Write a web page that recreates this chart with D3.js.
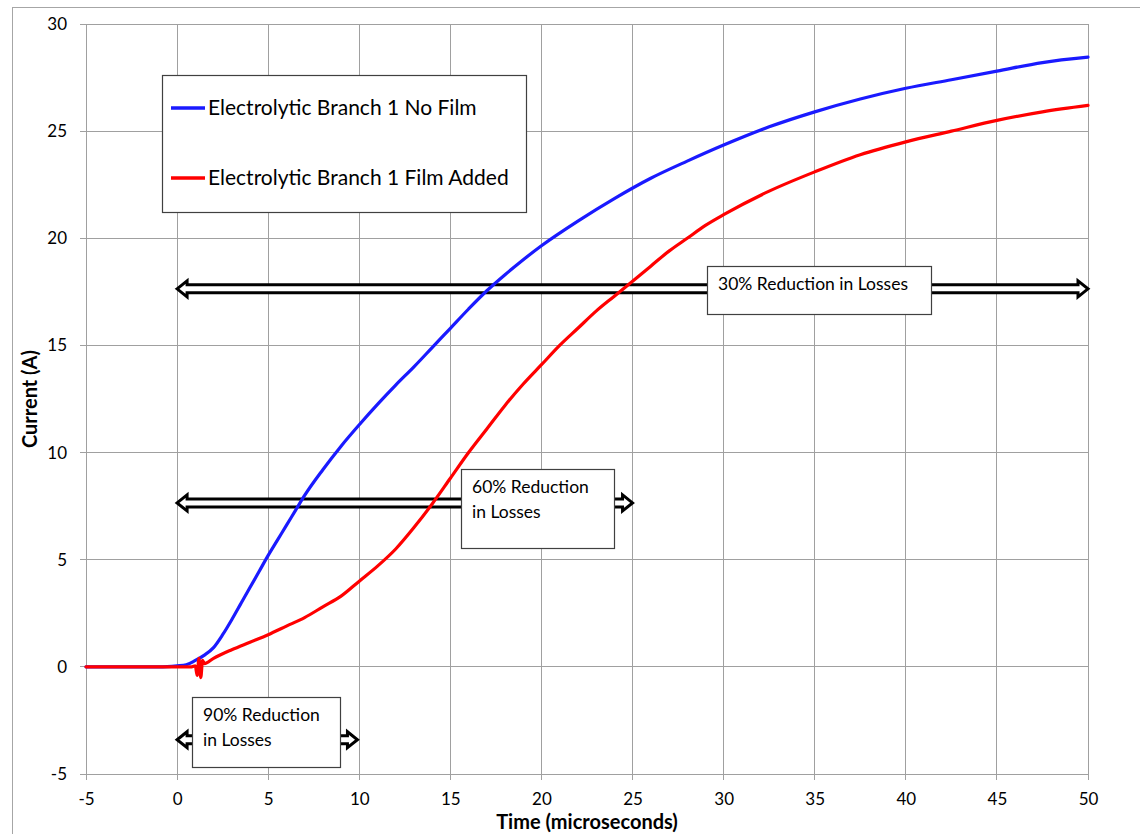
<!DOCTYPE html>
<html>
<head>
<meta charset="utf-8">
<script src="https://cdn.jsdelivr.net/npm/d3@7"></script>
<style>
  html, body { margin: 0; padding: 0; background: #fff; }
  svg { display: block; }
  text { font-family: Lato, "Open Sans", sans-serif; fill: #000; }
</style>
</head>
<body>
<script>
// Current step response of the electrolytic branch, with and without film capacitor
const timeNoFilm    = [-5, -4, -3, -2, -1, 0, 0.5, 1, 1.5, 2, 2.5, 3, 3.5, 4, 4.5, 5, 5.5, 6, 6.5, 7, 8, 9, 10, 11, 12, 13, 14, 15, 16, 17, 18, 19, 20, 22, 24, 26, 28, 30, 32.5, 35, 37.5, 40, 42.5, 45, 47.5, 50];
const currentNoFilm = [0, 0, 0, 0, 0, 0.05, 0.1, 0.3, 0.55, 0.9, 1.5, 2.2, 2.95, 3.7, 4.45, 5.2, 5.9, 6.6, 7.3, 8.0, 9.2, 10.3, 11.3, 12.25, 13.15, 14.0, 14.9, 15.8, 16.7, 17.55, 18.3, 19.0, 19.65, 20.8, 21.85, 22.8, 23.6, 24.35, 25.2, 25.9, 26.5, 27.0, 27.4, 27.8, 28.2, 28.45];

const timeFilm    = [-5, -4, -3, -2, -1, 0, 0.8, 1.0, 1.1, 1.2, 1.3, 1.4, 1.5, 2, 3, 4, 5, 6, 7, 8, 9, 10, 11, 12, 13, 14, 15, 16, 17, 18, 19, 20, 21, 22, 23, 24, 25, 26, 27, 28, 29, 30, 32.5, 35, 37.5, 40, 42.5, 45, 47.5, 50];
const currentFilm = [0, 0, 0, 0, 0, 0, 0, 0.05, -0.4, 0.4, -0.5, 0.3, 0.15, 0.4, 0.8, 1.15, 1.5, 1.9, 2.3, 2.8, 3.3, 4.0, 4.7, 5.5, 6.5, 7.6, 8.8, 10.0, 11.1, 12.2, 13.2, 14.1, 15.0, 15.8, 16.6, 17.3, 18.0, 18.7, 19.4, 20.0, 20.6, 21.1, 22.2, 23.1, 23.9, 24.5, 25.0, 25.5, 25.9, 26.2];

const seriesNames  = ["Electrolytic Branch 1 No Film", "Electrolytic Branch 1 Film Added"];
const seriesColors = ["#1a1aff", "#ff0000"];

const xTicks = [-5, 0, 5, 10, 15, 20, 25, 30, 35, 40, 45, 50];
const yTicks = [-5, 0, 5, 10, 15, 20, 25, 30];

// Loss-reduction spans: start time, end time, current level, label lines
const spanStart = [0, 0, 0];
const spanEnd   = [50, 25, 9.9];
const spanLevel = [17.64, 7.65, -3.4];
const spanLabel = [["30% Reduction in Losses"], ["60% Reduction", "in Losses"], ["90% Reduction", "in Losses"]];

const W = 1140, H = 834;
const plot = { left: 86, right: 1088, top: 24, bottom: 774 };

const svg = d3.select("body").append("svg").attr("width", W).attr("height", H);

// chart area frame
svg.append("rect").attr("x", 12.5).attr("y", 7.5).attr("width", 1200).attr("height", 1000)
  .attr("fill", "#fff").attr("stroke", "#a6a6a6").attr("stroke-width", 1);

const x = d3.scaleLinear().domain([-5, 50]).range([plot.left, plot.right]);
const y = d3.scaleLinear().domain([-5, 30]).range([plot.bottom, plot.top]);

// gridlines
const grid = svg.append("g").attr("stroke", "#a0a0a0").attr("stroke-width", 1).attr("shape-rendering", "crispEdges");
grid.selectAll(".gx").data(xTicks).join("line")
  .attr("x1", d => x(d)).attr("x2", d => x(d))
  .attr("y1", plot.top).attr("y2", plot.bottom + 6);
grid.selectAll(".gy").data(yTicks).join("line")
  .attr("x1", plot.left - 6).attr("x2", plot.right)
  .attr("y1", d => y(d)).attr("y2", d => y(d));

// axes (labels only; the grid supplies the lines)
const xAxis = svg.append("g").attr("transform", `translate(0,${plot.bottom})`)
  .call(d3.axisBottom(x).tickValues(xTicks).tickSize(0).tickPadding(19).tickFormat(d => String(d)));
const yAxis = svg.append("g").attr("transform", `translate(${plot.left},0)`)
  .call(d3.axisLeft(y).tickValues(yTicks).tickSize(0).tickPadding(19).tickFormat(d => String(d)));
[xAxis, yAxis].forEach(a => {
  a.select(".domain").remove();
  a.selectAll("text").style("font-size", "17px").style("font-family", "Lato, 'Open Sans', sans-serif").attr("fill", "#000");
});

// axis titles
svg.append("text").attr("x", (plot.left + plot.right) / 2).attr("y", 829)
  .attr("text-anchor", "middle").style("font-size", "20px").style("font-weight", "bold")
  .text("Time (microseconds)");
svg.append("text").attr("transform", `translate(37,${(plot.top + plot.bottom) / 2}) rotate(-90)`)
  .attr("text-anchor", "middle").style("font-size", "20px").style("font-weight", "bold")
  .text("Current (A)");

// double-headed block arrows
function arrowPath(x0, x1, yc) {
  const sh = 4, hh = 8, hl = 10;
  return `M${x0},${yc} L${x0 + hl},${yc - hh} L${x0 + hl},${yc - sh} L${x1 - hl},${yc - sh} L${x1 - hl},${yc - hh} ` +
         `L${x1},${yc} L${x1 - hl},${yc + hh} L${x1 - hl},${yc + sh} L${x0 + hl},${yc + sh} L${x0 + hl},${yc + hh} Z`;
}
svg.append("g").selectAll("path").data(d3.range(spanStart.length)).join("path")
  .attr("d", i => arrowPath(x(spanStart[i]), x(spanEnd[i]), y(spanLevel[i])))
  .attr("fill", "#fff").attr("stroke", "#000").attr("stroke-width", 3).attr("stroke-linejoin", "miter");

// current traces
const line = d3.line().x(d => x(d[0])).y(d => y(d[1])).curve(d3.curveMonotoneX);
const traces = [
  d3.zip(timeNoFilm, currentNoFilm),
  d3.zip(timeFilm, currentFilm)
];
svg.append("g").selectAll("path").data(traces).join("path")
  .attr("d", line).attr("fill", "none")
  .attr("stroke", (d, i) => seriesColors[i]).attr("stroke-width", 3.2)
  .attr("stroke-linejoin", "round").attr("stroke-linecap", "round");

// annotation boxes
const boxes = [
  { x0: 707, y0: 266, x1: 931, y1: 314 },
  { x0: 461, y0: 469, x1: 614, y1: 548 },
  { x0: 192, y0: 697, x1: 340, y1: 767 }
];
const ann = svg.append("g");
boxes.forEach((b, i) => {
  ann.append("rect").attr("x", b.x0 + 0.5).attr("y", b.y0 + 0.5)
    .attr("width", b.x1 - b.x0).attr("height", b.y1 - b.y0)
    .attr("fill", "#fff").attr("stroke", "#404040").attr("stroke-width", 1.2);
  spanLabel[i].forEach((s, j) => {
    ann.append("text").attr("x", b.x0 + 11).attr("y", b.y0 + 24 + j * 25)
      .style("font-size", "17.5px").text(s);
  });
});

// legend
const lg = svg.append("g");
lg.append("rect").attr("x", 162.5).attr("y", 75.5).attr("width", 364).attr("height", 137)
  .attr("fill", "#fff").attr("stroke", "#404040").attr("stroke-width", 1.2);
seriesNames.forEach((name, i) => {
  const yy = 108 + i * 70;
  lg.append("line").attr("x1", 171).attr("x2", 205).attr("y1", yy).attr("y2", yy)
    .attr("stroke", seriesColors[i]).attr("stroke-width", 3.5);
  lg.append("text").attr("x", 208).attr("y", yy + 7).style("font-size", "21px").text(name);
});
</script>
</body>
</html>
